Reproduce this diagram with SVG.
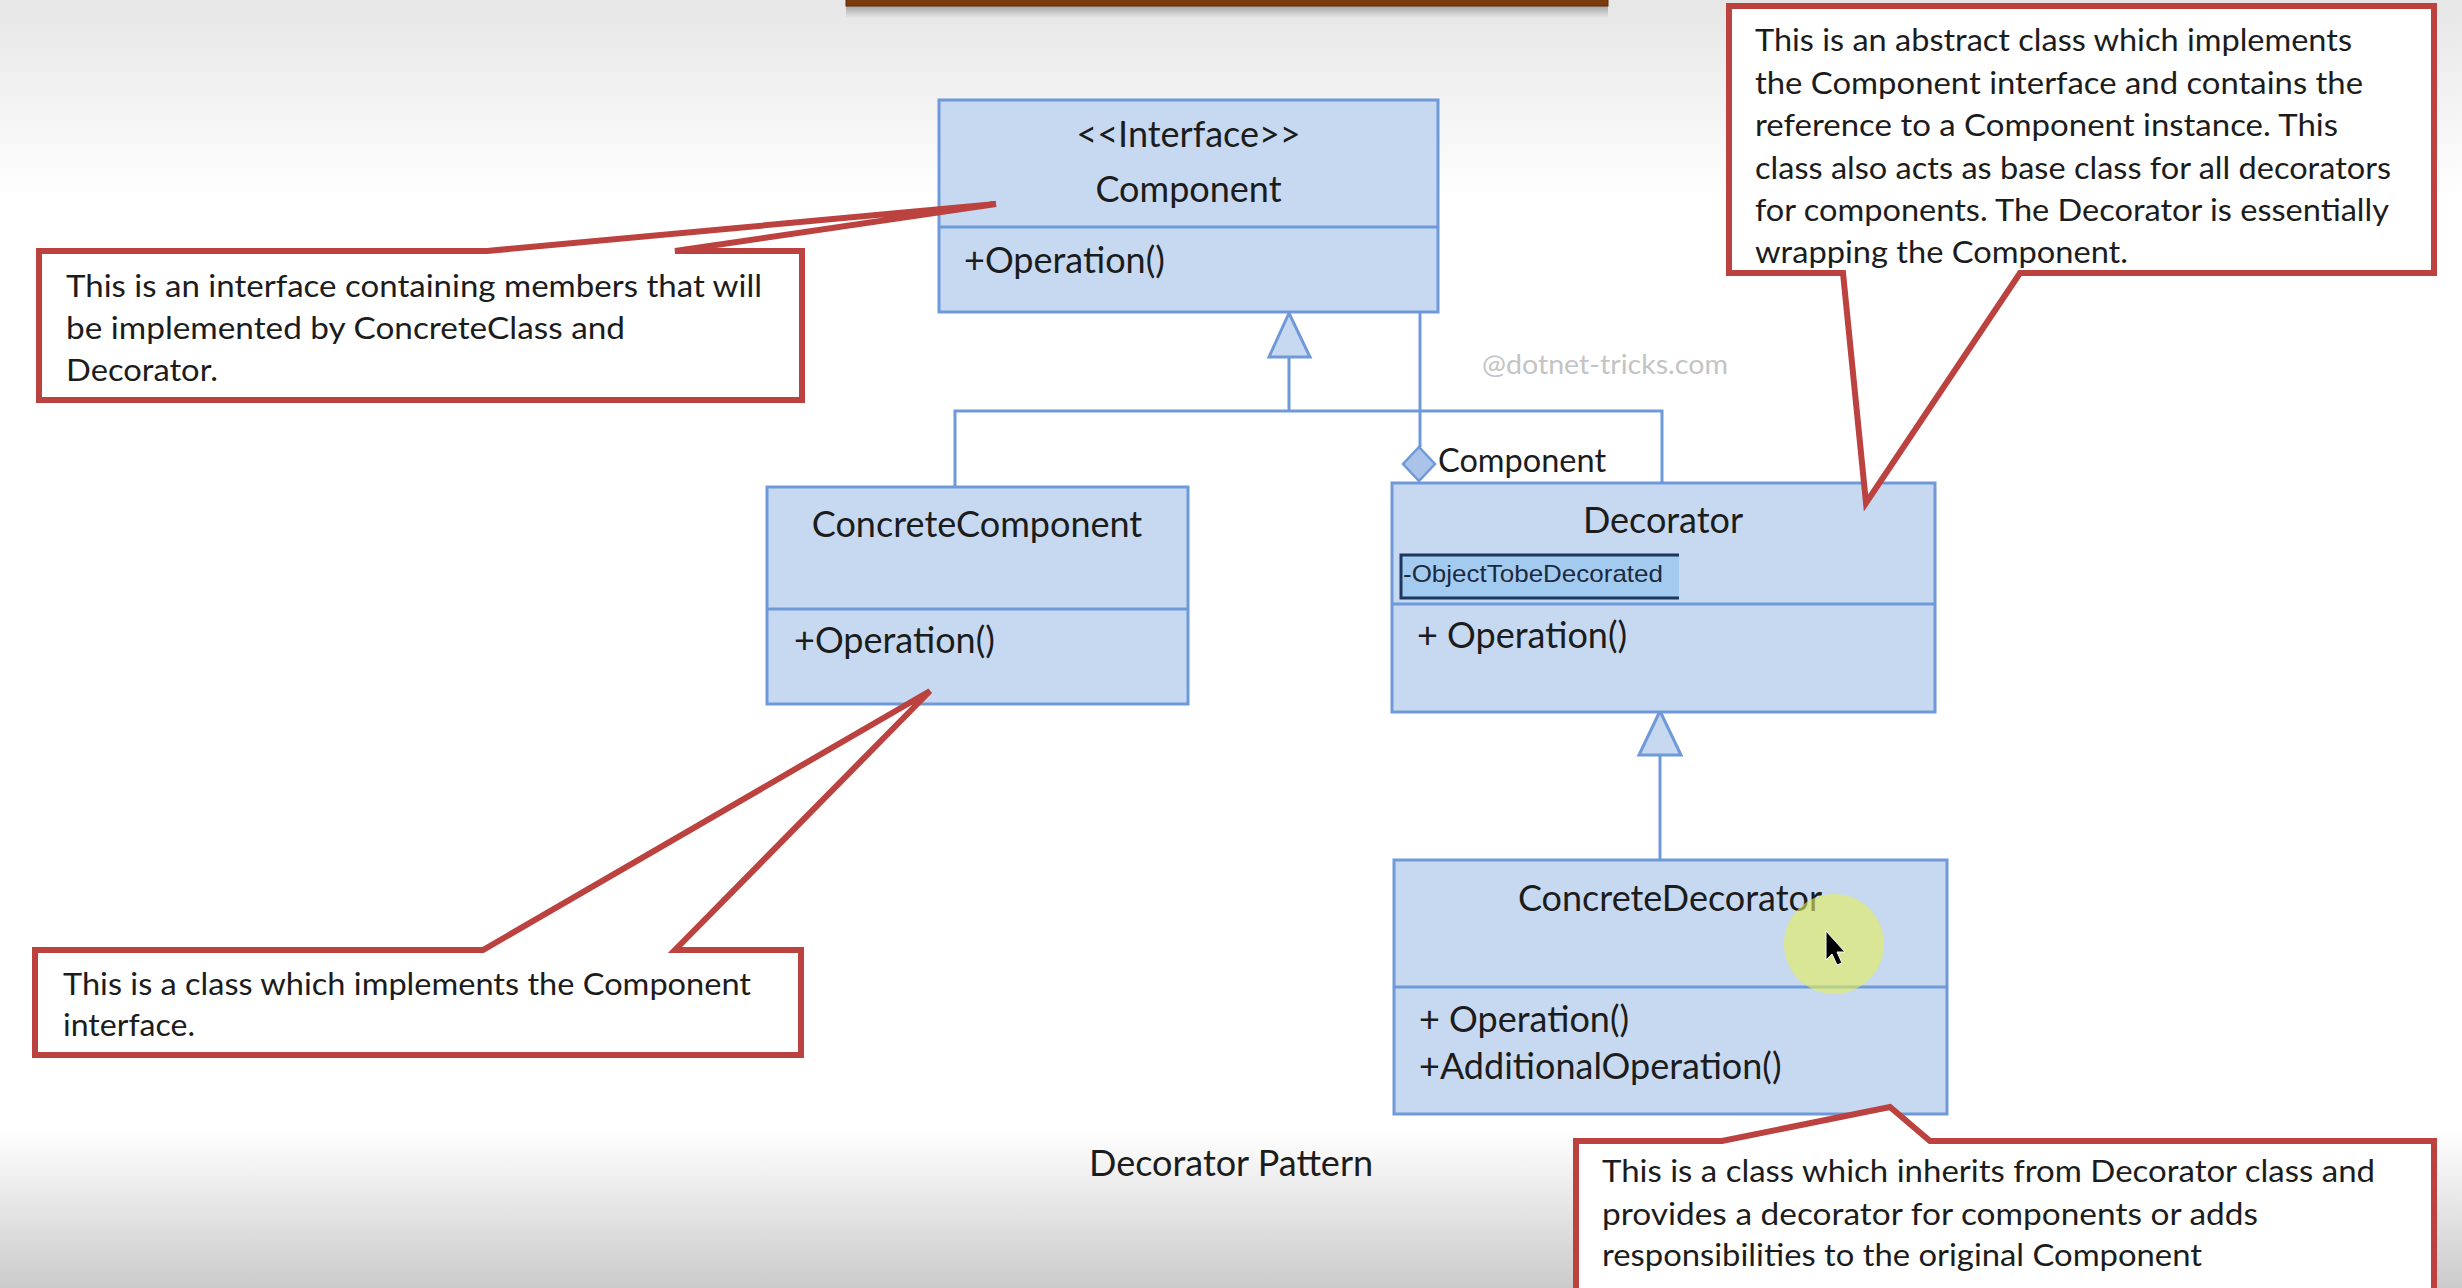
<svg xmlns="http://www.w3.org/2000/svg" width="2462" height="1288" viewBox="0 0 2462 1288">
<defs>
<linearGradient id="gTop" x1="0" y1="0" x2="0" y2="1"><stop offset="0" stop-color="#e6e6e6"/><stop offset="1" stop-color="#ffffff"/></linearGradient>
<linearGradient id="gBot" x1="0" y1="0" x2="0" y2="1"><stop offset="0" stop-color="#ffffff"/><stop offset="1" stop-color="#cbcbcb"/></linearGradient>
<linearGradient id="gShadow" x1="0" y1="0" x2="0" y2="1"><stop offset="0" stop-color="#888" stop-opacity="0.7"/><stop offset="1" stop-color="#888" stop-opacity="0"/></linearGradient>
<style>
.box{fill:#c6d9f1;stroke:#6f99d8;stroke-width:3}
.div{stroke:#6f99d8;stroke-width:3}
.t{font-family:Lato,'Open Sans',sans-serif;fill:#1c1c1c}
.cls{font-size:36px}
.note{fill:#ffffff;stroke:#bb423f;stroke-width:6;stroke-linejoin:miter}
.nt{font-size:31px}
.con{fill:none;stroke:#6f99d8;stroke-width:3}
.tri{fill:#c6d9f1;stroke:#6f99d8;stroke-width:3}
</style>
</defs>
<rect x="0" y="0" width="2462" height="1288" fill="#ffffff"/>
<rect x="0" y="0" width="2462" height="200" fill="url(#gTop)"/>
<rect x="0" y="1130" width="2462" height="158" fill="url(#gBot)"/>
<rect x="846" y="6" width="762" height="12" fill="url(#gShadow)"/>
<rect x="846" y="-2" width="762" height="8" fill="#7a3a0c" stroke="#5a2a08" stroke-width="1"/>

<g id="connectors">
<polyline class="con" points="1289,357 1289,411"/>
<polyline class="con" points="955,487 955,411 1662,411 1662,483"/>
<polygon class="tri" points="1289,313 1269,357 1310,357"/>
<line class="con" x1="1420" y1="312" x2="1420" y2="447"/>
<polygon points="1419,447 1435,464 1419,481 1403,464" fill="#a9c4e8" stroke="#6f99d8" stroke-width="2.5"/>
<text class="t" x="1438" y="472" font-size="32.5">Component</text>
<line class="con" x1="1660" y1="755" x2="1660" y2="860"/>
<polygon class="tri" points="1660,711 1639,755 1681,755"/>
</g>

<text x="1482" y="374" font-family="Lato,'Open Sans',sans-serif" font-size="27" fill="#c4c4c4" textLength="246" lengthAdjust="spacingAndGlyphs">@dotnet-tricks.com</text>

<g id="component">
<rect class="box" x="939" y="100" width="499" height="212"/>
<line class="div" x1="939" y1="227" x2="1438" y2="227"/>
<text class="t cls" x="1188.5" y="147" text-anchor="middle">&lt;&lt;Interface&gt;&gt;</text>
<text class="t cls" x="1188.5" y="202" text-anchor="middle">Component</text>
<text class="t cls" x="964" y="273">+Operation()</text>
</g>

<g id="concreteComponent">
<rect class="box" x="767" y="487" width="421" height="217"/>
<line class="div" x1="767" y1="609" x2="1188" y2="609"/>
<text class="t cls" x="977" y="537" text-anchor="middle">ConcreteComponent</text>
<text class="t cls" x="794" y="653">+Operation()</text>
</g>

<g id="decorator">
<rect class="box" x="1392" y="483" width="543" height="229"/>
<line class="div" x1="1392" y1="604" x2="1935" y2="604"/>
<text class="t cls" x="1663" y="533" text-anchor="middle">Decorator</text>
<rect x="1401" y="555" width="278" height="43" fill="#a3cbf0"/>
<path d="M1679,555 L1401,555 L1401,598 L1679,598" fill="none" stroke="#1b365f" stroke-width="3"/>
<text x="1403" y="582" font-family="'Liberation Sans',Arial,sans-serif" font-size="24" fill="#1b2a40" textLength="260" lengthAdjust="spacingAndGlyphs">-ObjectTobeDecorated</text>
<text class="t cls" x="1417" y="648">+ Operation()</text>
</g>

<g id="concreteDecorator">
<rect class="box" x="1394" y="860" width="553" height="254"/>
<line class="div" x1="1394" y1="987" x2="1947" y2="987"/>
<text class="t cls" x="1670" y="911" text-anchor="middle">ConcreteDecorator</text>
<text class="t cls" x="1419" y="1032">+ Operation()</text>
<text class="t cls" x="1419" y="1079">+AdditionalOperation()</text>
<circle cx="1834" cy="944" r="50" fill="#e4ee5a" fill-opacity="0.6"/>
<polygon points="1826,931 1826,960 1832,954 1837,965 1842,963 1837,952 1845,952" fill="#000000" stroke="#ffffff" stroke-width="1"/>
</g>

<g id="noteInterface">
<path class="note" d="M39,251 L487,251 L996,204 L675,251 L802,251 L802,400 L39,400 Z"/>
<text class="t nt" x="66" y="297" textLength="696" lengthAdjust="spacingAndGlyphs">This is an interface containing members that will</text>
<text class="t nt" x="66" y="339" textLength="559" lengthAdjust="spacingAndGlyphs">be implemented  by ConcreteClass  and</text>
<text class="t nt" x="66" y="381" textLength="152" lengthAdjust="spacingAndGlyphs">Decorator.</text>
</g>

<g id="noteDecorator">
<path class="note" d="M1729,6 L2434,6 L2434,273 L2020,273 L1866,503 L1843,273 L1729,273 Z"/>
<text class="t nt" x="1755" y="51" textLength="597" lengthAdjust="spacingAndGlyphs">This is an abstract class which implements</text>
<text class="t nt" x="1755" y="94" textLength="608" lengthAdjust="spacingAndGlyphs">the Component interface and contains the</text>
<text class="t nt" x="1755" y="136" textLength="583" lengthAdjust="spacingAndGlyphs">reference to a Component instance. This</text>
<text class="t nt" x="1755" y="179" textLength="636" lengthAdjust="spacingAndGlyphs">class also acts as base class for all decorators</text>
<text class="t nt" x="1755" y="221" textLength="634" lengthAdjust="spacingAndGlyphs">for components. The Decorator is essentially</text>
<text class="t nt" x="1755" y="263" textLength="373" lengthAdjust="spacingAndGlyphs">wrapping the Component.</text>
</g>

<g id="noteConcreteComponent">
<path class="note" d="M35,950 L483,950 L930,691 L675,950 L801,950 L801,1055 L35,1055 Z"/>
<text class="t nt" x="63" y="995" textLength="688" lengthAdjust="spacingAndGlyphs">This is a class which implements  the Component</text>
<text class="t nt" x="63" y="1036" textLength="132" lengthAdjust="spacingAndGlyphs">interface.</text>
</g>

<g id="noteConcreteDecorator">
<path class="note" d="M1576,1141 L1722,1141 L1890,1107 L1930,1141 L2434,1141 L2434,1300 L1576,1300 Z"/>
<text class="t nt" x="1602" y="1182" textLength="773" lengthAdjust="spacingAndGlyphs">This is a class  which inherits from Decorator class and</text>
<text class="t nt" x="1602" y="1225" textLength="656" lengthAdjust="spacingAndGlyphs">provides a decorator for components or  adds</text>
<text class="t nt" x="1602" y="1266" textLength="600" lengthAdjust="spacingAndGlyphs">responsibilities  to the original Component</text>
</g>

<text class="t" x="1089" y="1176" font-size="36">Decorator Pattern</text>
</svg>
